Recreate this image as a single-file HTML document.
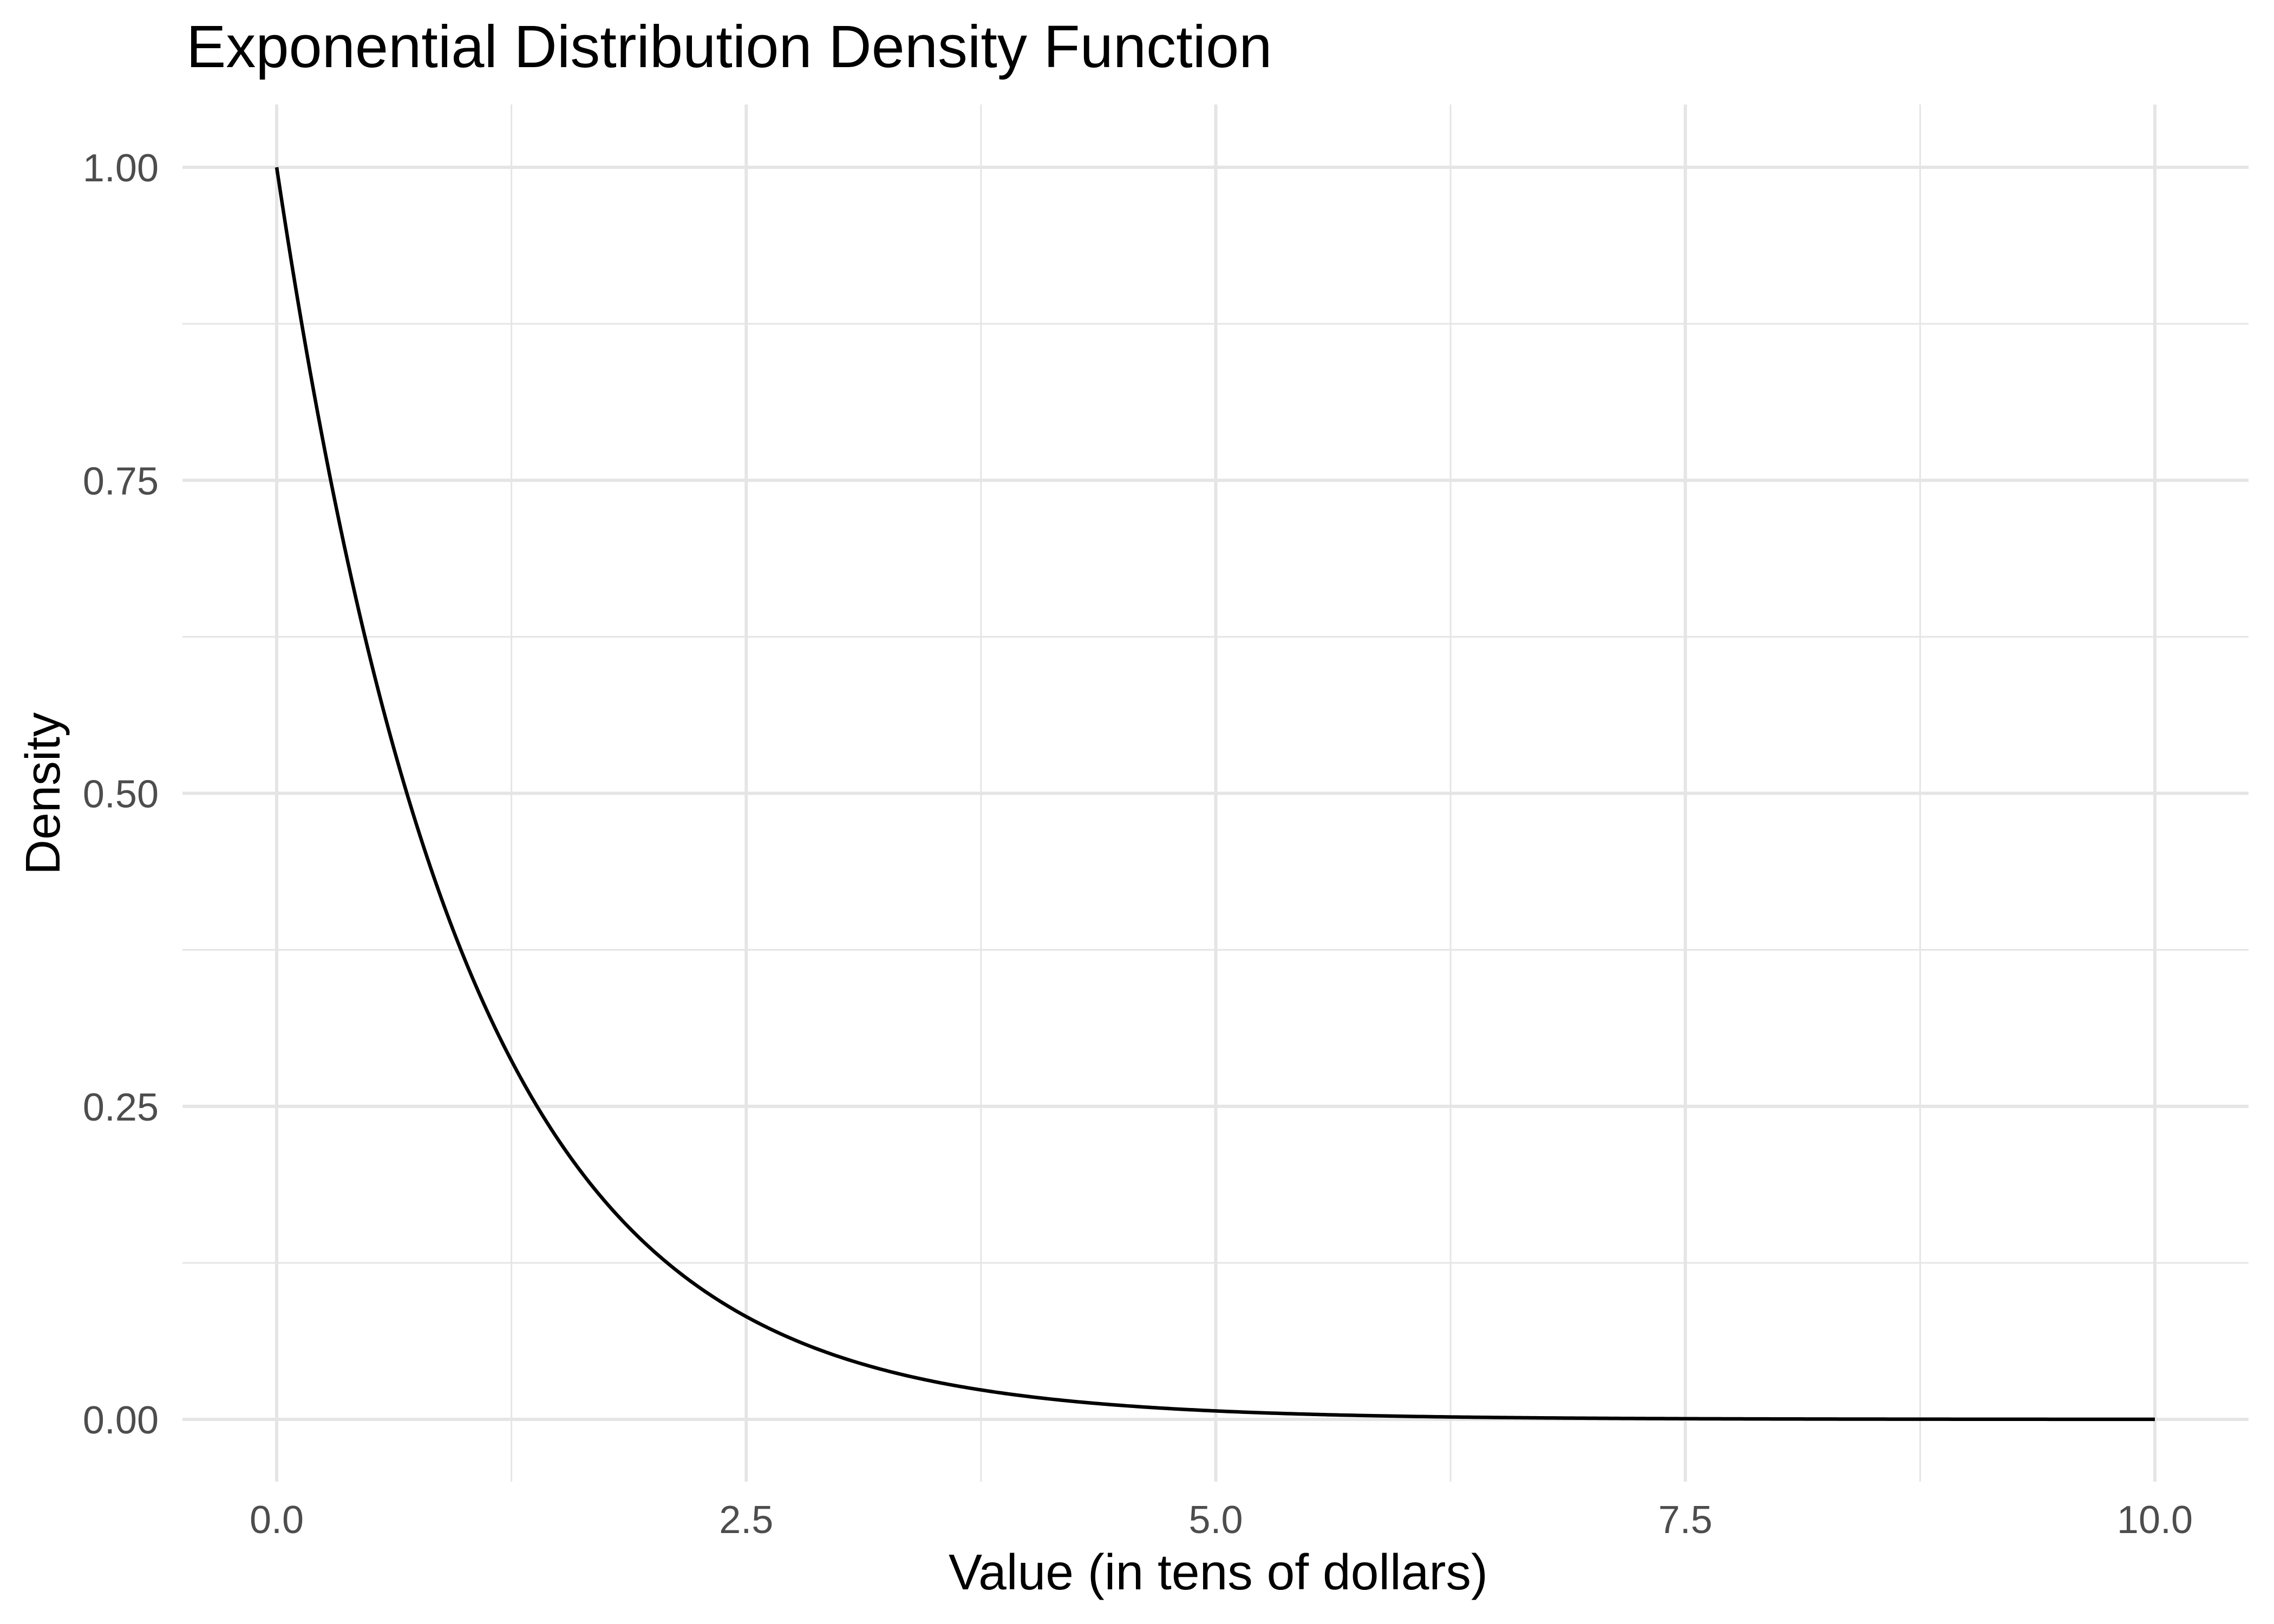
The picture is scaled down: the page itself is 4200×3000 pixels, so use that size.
<!DOCTYPE html>
<html><head><meta charset="utf-8"><style>
html,body{margin:0;padding:0;background:#fff;}
svg{display:block;}
</style></head><body>
<svg id="s" width="4200" height="3000" viewBox="0 0 4200 3000" xmlns="http://www.w3.org/2000/svg" font-family="Liberation Sans, Arial, sans-serif">
<rect width="4200" height="3000" fill="#fff"/>
<g id="grid"></g>
<path id="curve" fill="none" stroke="#000" stroke-width="6.5" stroke-linejoin="round"/>
<g fill="#4d4d4d" font-size="72" id="labels"></g>
<text x="344" y="124" font-size="110" fill="#000">Exponential Distribution Density Function</text>
<text x="2250" y="2936" font-size="93" fill="#000" text-anchor="middle">Value (in tens of dollars)</text>
<text transform="translate(110,1466) rotate(-90)" font-size="90" fill="#000" text-anchor="middle">Density</text>
</svg>
<script>
var NS="http://www.w3.org/2000/svg";
var L=337,R=4153,T=193,B=2737;
function X(v){return 511+v*346.9;}
function Y(v){return 2622-v*2313;}
var g=document.getElementById('grid'),lab=document.getElementById('labels');
function line(x1,y1,x2,y2,w){var l=document.createElementNS(NS,'line');l.setAttribute('x1',x1);l.setAttribute('y1',y1);l.setAttribute('x2',x2);l.setAttribute('y2',y2);l.setAttribute('stroke','#e5e5e5');l.setAttribute('stroke-width',w);g.appendChild(l);}
function txt(x,y,s,a){var t=document.createElementNS(NS,'text');t.setAttribute('x',x);t.setAttribute('y',y);t.setAttribute('text-anchor',a);t.textContent=s;lab.appendChild(t);}
[0.125,0.375,0.625,0.875].forEach(function(v){line(L,Y(v),R,Y(v),3);});
[1.25,3.75,6.25,8.75].forEach(function(v){line(X(v),T,X(v),B,3);});
[0,0.25,0.5,0.75,1].forEach(function(v){line(L,Y(v),R,Y(v),6);txt(293,Y(v)+26,v.toFixed(2),'end');});
[0,2.5,5,7.5,10].forEach(function(v){line(X(v),T,X(v),B,6);txt(X(v),2832,v.toFixed(1),'middle');});
var d='';for(var i=0;i<=500;i++){var x=i*10/500;d+=(i?'L':'M')+X(x).toFixed(2)+' '+Y(Math.exp(-x)).toFixed(2);}
document.getElementById('curve').setAttribute('d',d);
</script>
</body></html>
